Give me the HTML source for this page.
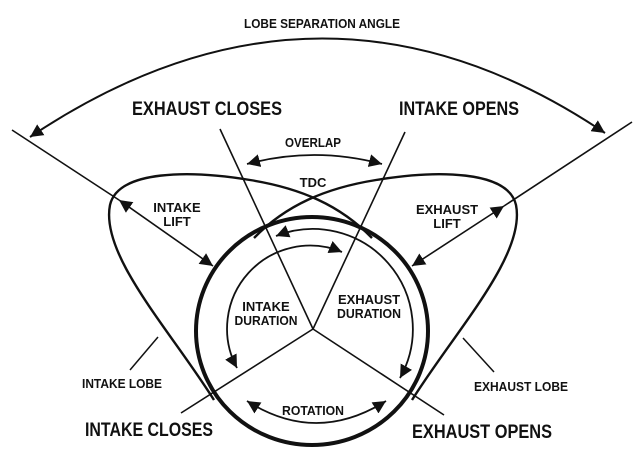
<!DOCTYPE html>
<html><head><style>
html,body{margin:0;padding:0;background:#fff;}
svg{display:block;}
text{font-family:"Liberation Sans Narrow","Liberation Sans",sans-serif;font-weight:bold;fill:#111;}
</style></head><body>
<svg width="643" height="464" viewBox="0 0 643 464" xmlns="http://www.w3.org/2000/svg">
<defs>
<marker id="a" viewBox="0 0 10 10" refX="10" refY="5" markerWidth="13" markerHeight="13" markerUnits="userSpaceOnUse" orient="auto-start-reverse">
<path d="M0,0 L10,5 L0,10 z" fill="#111"/>
</marker>
</defs>
<g fill="none" stroke="#111">
<path d="M30,137 Q321,-58 605,133" stroke-width="2" marker-start="url(#a)" marker-end="url(#a)"/>
<line x1="12" y1="130" x2="119" y2="200" stroke-width="1.6"/>
<line x1="119" y1="200" x2="213" y2="266" stroke-width="1.6" marker-start="url(#a)" marker-end="url(#a)"/>
<line x1="632" y1="122" x2="504" y2="206" stroke-width="1.6"/>
<line x1="504" y1="206" x2="412" y2="266" stroke-width="1.6" marker-start="url(#a)" marker-end="url(#a)"/>
<path d="M214,400 C170,330 100,255 110,205 C118,170 190,170 250,180 C300,188 340,205 372,238" stroke-width="2.4"/>
<path d="M412,400 C456,330 526,255 516,205 C508,170 436,170 376,180 C326,188 286,205 254,238" stroke-width="2.4"/>
<ellipse cx="312" cy="331" rx="116" ry="114" stroke-width="4"/>
<line x1="220" y1="129" x2="313" y2="329" stroke-width="1.6"/>
<line x1="405" y1="132" x2="313" y2="329" stroke-width="1.6"/>
<line x1="313" y1="329" x2="181" y2="413" stroke-width="1.6"/>
<line x1="313" y1="329" x2="444" y2="415" stroke-width="1.6"/>
<path d="M247,164 Q314,146 382,164" stroke-width="1.8" marker-start="url(#a)" marker-end="url(#a)"/>
<path d="M247,401 Q316,445 386,401" stroke-width="1.8" marker-start="url(#a)" marker-end="url(#a)"/>
<path d="M276,236 A100,100 0 0 1 400,378" stroke-width="1.8" marker-start="url(#a)" marker-end="url(#a)"/>
<path d="M342,252 A83,83 0 0 0 237,368" stroke-width="1.8" marker-start="url(#a)" marker-end="url(#a)"/>
<line x1="158" y1="337" x2="130" y2="370" stroke-width="1.5"/>
<line x1="463" y1="338" x2="494" y2="372" stroke-width="1.5"/>
</g>
<g text-anchor="middle">
<text x="322" y="28" font-size="13" textLength="156" lengthAdjust="spacingAndGlyphs">LOBE SEPARATION ANGLE</text>
<text x="207" y="115" font-size="19" textLength="150" lengthAdjust="spacingAndGlyphs">EXHAUST CLOSES</text>
<text x="459" y="115" font-size="19" textLength="120" lengthAdjust="spacingAndGlyphs">INTAKE OPENS</text>
<text x="313" y="147" font-size="13" textLength="56" lengthAdjust="spacingAndGlyphs">OVERLAP</text>
<text x="313" y="187" font-size="13">TDC</text>
<text x="177" y="212" font-size="13">INTAKE</text>
<text x="177" y="226" font-size="13">LIFT</text>
<text x="447" y="214" font-size="13">EXHAUST</text>
<text x="447" y="228" font-size="13">LIFT</text>
<text x="266" y="311" font-size="13">INTAKE</text>
<text x="266" y="325" font-size="13" textLength="63" lengthAdjust="spacingAndGlyphs">DURATION</text>
<text x="369" y="304" font-size="13">EXHAUST</text>
<text x="369" y="318" font-size="13" textLength="64" lengthAdjust="spacingAndGlyphs">DURATION</text>
<text x="122" y="388" font-size="13" textLength="80" lengthAdjust="spacingAndGlyphs">INTAKE LOBE</text>
<text x="521" y="391" font-size="13" textLength="94" lengthAdjust="spacingAndGlyphs">EXHAUST LOBE</text>
<text x="313" y="415" font-size="13" textLength="62" lengthAdjust="spacingAndGlyphs">ROTATION</text>
<text x="149" y="436" font-size="19" textLength="128" lengthAdjust="spacingAndGlyphs">INTAKE CLOSES</text>
<text x="482" y="438" font-size="19" textLength="140" lengthAdjust="spacingAndGlyphs">EXHAUST OPENS</text>
</g>
</svg>
</body></html>
